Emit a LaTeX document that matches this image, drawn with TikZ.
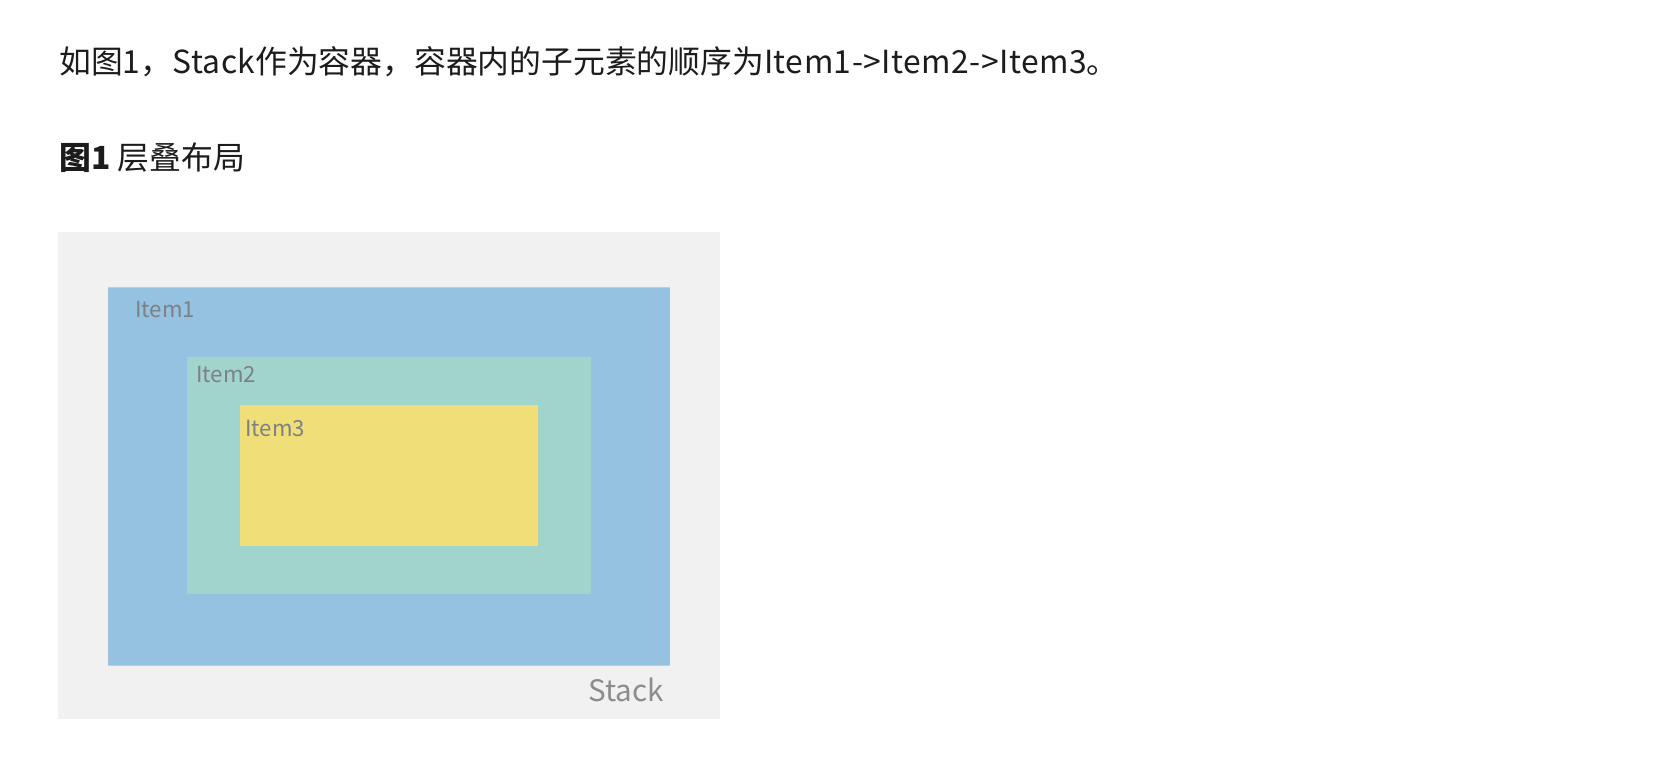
\documentclass[tikz,border=0pt]{standalone}
\usepackage{fontspec}
\setmainfont{Noto Sans CJK SC}
\newfontfamily\latinwide[LetterSpace=1.5]{Noto Sans CJK SC}
\definecolor{stackbg}{RGB}{241,241,241}
\definecolor{itemblue}{RGB}{148,194,224}
\definecolor{itemblueedge}{RGB}{178,210,232}
\definecolor{itemgreen}{RGB}{162,212,206}
\definecolor{itemyellow}{RGB}{240,222,120}
\definecolor{bodytext}{RGB}{28,28,28}
\definecolor{labeltext}{RGB}{125,128,132}
\definecolor{stacktext}{RGB}{140,140,140}
\tikzset{
  bodyline/.style={anchor=base west,inner sep=0pt,text=bodytext,font=\fontsize{15.9pt}{18pt}\selectfont},
  itemlabel/.style={anchor=base west,inner sep=0pt,text=labeltext,font=\fontsize{11.1pt}{13pt}\selectfont},
  stacklabel/.style={anchor=base west,inner sep=0pt,text=stacktext,font=\fontsize{14.8pt}{17pt}\selectfont},
  edgeline/.style={draw=itemblueedge,line width=0.8pt}
}
\begin{document}
\begin{tikzpicture}[x=0.5pt,y=-0.5pt]
\useasboundingbox[fill=white] (0,0) rectangle (1676,758);
\node[bodyline] (intro) at (59,74) {如图{\latinwide 1}，{\latinwide Stack}作为容器，容器内的子元素的顺序为{\latinwide Item1{-}>Item2{-}>Item3}。};
\node[bodyline] (caption) at (59,170) {\bfseries 图1\mdseries\ 层叠布局};
\fill[stackbg] (58,232) rectangle (720,719);
\fill[itemblue] (108,287) rectangle (670,666);
\draw[edgeline] (108,287.5) -- (670,287.5);
\draw[edgeline] (108,665.5) -- (670,665.5);
\fill[itemgreen] (187,357) rectangle (591,594);
\fill[itemyellow] (240,405) rectangle (538,546);
\node[itemlabel] (item1) at (135,318) {Item1};
\node[itemlabel] (item2) at (196,383) {Item2};
\node[itemlabel] (item3) at (245,437) {Item3};
\node[stacklabel] (stack) at (588,701) {Stack};
\end{tikzpicture}
\end{document}
